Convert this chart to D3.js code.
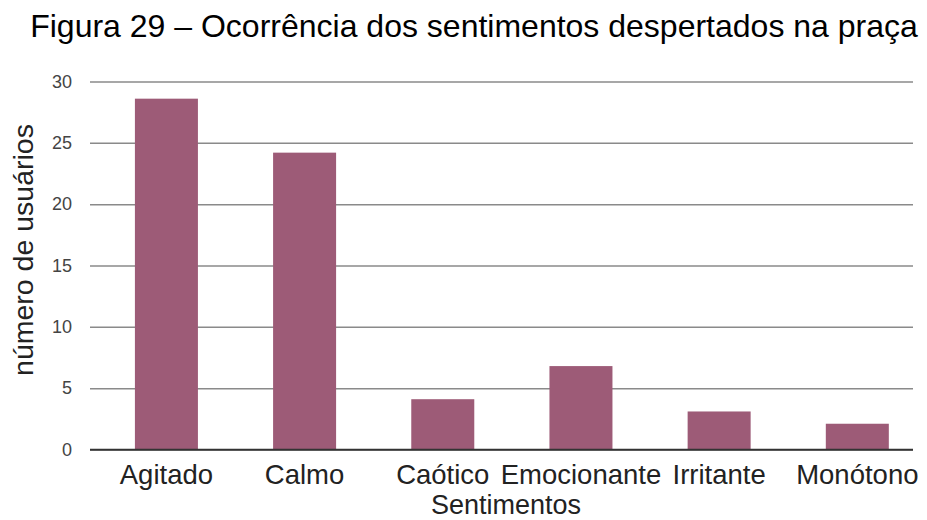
<!DOCTYPE html>
<html>
<head>
<meta charset="utf-8">
<script src="https://cdn.jsdelivr.net/npm/d3@7"></script>
<style>
  html, body { margin: 0; padding: 0; background: #fff; }
  svg { display: block; font-family: "Liberation Sans", Arial, sans-serif; }
</style>
</head>
<body>
<svg id="chart" width="927" height="520"></svg>
<script>
// Sentiments reported by square users
const categories = ["Agitado", "Calmo", "Caótico", "Emocionante", "Irritante", "Monótono"];
const values = [28.6, 24.2, 4.1, 6.8, 3.1, 2.1];
const yTicks = [0, 5, 10, 15, 20, 25, 30];

const titleText = "Figura 29 – Ocorrência dos sentimentos despertados na praça";
const yLabel = "número de usuários";
const xLabel = "Sentimentos";

const svg = d3.select("#chart");
const plot = { left: 90, right: 913, top: 81.5, bottom: 449.5 };

const x = d3.scaleBand()
  .domain(categories)
  .range([plot.left, plot.right])
  .paddingInner(0.544)
  .paddingOuter(0.25)
  .align(0.65);

const y = d3.scaleLinear()
  .domain([0, 30])
  .range([plot.bottom, plot.top]);

// Title
svg.append("text")
  .attr("x", 474)
  .attr("y", 37)
  .attr("text-anchor", "middle")
  .attr("font-size", 32)
  .attr("fill", "#000")
  .text(titleText);

// Horizontal gridlines with value labels
const yAxis = d3.axisLeft(y)
  .tickValues(yTicks)
  .tickSize(-(plot.right - plot.left))
  .tickPadding(18)
  .tickFormat(d3.format("d"));

const yg = svg.append("g")
  .attr("transform", `translate(${plot.left},0)`)
  .call(yAxis);
yg.select(".domain").remove();
yg.selectAll(".tick line")
  .attr("stroke", d => d === 0 ? "#333" : "#8a8a8a")
  .attr("stroke-width", 1.5);
yg.selectAll(".tick text")
  .attr("font-size", 18)
  .attr("fill", "#444")
  .attr("font-family", "Liberation Sans, Arial, sans-serif");

// Bars
svg.append("g")
  .selectAll("rect")
  .data(values)
  .join("rect")
  .attr("x", (d, i) => x(categories[i]))
  .attr("y", d => y(d))
  .attr("width", x.bandwidth())
  .attr("height", d => y(0) - y(d))
  .attr("fill", "#9d5b77");

// Redraw the baseline over the bars
svg.append("line")
  .attr("x1", plot.left).attr("x2", plot.right)
  .attr("y1", y(0)).attr("y2", y(0))
  .attr("stroke", "#333")
  .attr("stroke-width", 1.5);

// Category labels
const xAxis = d3.axisBottom(x).tickSize(0).tickPadding(15);
const xg = svg.append("g")
  .attr("transform", `translate(0,${plot.bottom})`)
  .call(xAxis);
xg.select(".domain").remove();
xg.selectAll(".tick text")
  .attr("font-size", 27.5)
  .attr("fill", "#222")
  .attr("font-family", "Liberation Sans, Arial, sans-serif");

// Axis titles
svg.append("text")
  .attr("x", 506)
  .attr("y", 514)
  .attr("text-anchor", "middle")
  .attr("font-size", 27)
  .attr("fill", "#222")
  .text(xLabel);

svg.append("text")
  .attr("transform", "translate(33,250) rotate(-90)")
  .attr("text-anchor", "middle")
  .attr("font-size", 28.5)
  .attr("fill", "#222")
  .text(yLabel);
</script>
</body>
</html>
